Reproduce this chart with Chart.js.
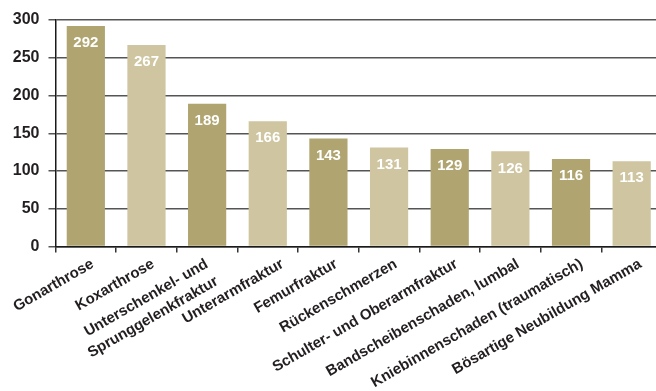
<!DOCTYPE html>
<html lang="de">
<head>
    <meta charset="UTF-8">
    <title>Diagnosen</title>
    <script src="https://cdn.jsdelivr.net/npm/chart.js"></script>
    <style>
        html, body {
            margin: 0;
            padding: 0;
            background: #ffffff;
            overflow: hidden;
        }
        #wrap {
            width: 662px;
            height: 391px;
            position: relative;
        }
    </style>
</head>
<body>
    <div id="wrap"><canvas id="chart"></canvas></div>

    <script>
        const categories = [
            'Gonarthrose',
            'Koxarthrose',
            ['Unterschenkel- und', 'Sprunggelenkfraktur'],
            'Unterarmfraktur',
            'Femurfraktur',
            'Rückenschmerzen',
            'Schulter- und Oberarmfraktur',
            'Bandscheibenschaden, lumbal',
            'Kniebinnenschaden (traumatisch)',
            'Bösartige Neubildung Mamma'
        ];
        const values = [292, 267, 189, 166, 143, 131, 129, 126, 116, 113];
        const yTicks = [0, 50, 100, 150, 200, 250, 300];

        const FONT = "'Liberation Sans', Arial, sans-serif";
        const DARK = '#b0a570';
        const LIGHT = '#cfc5a0';
        const TEXT = '#231f20';

        // small horizontal nudges of the rotated category labels, as in the original
        const labelNudge = [3, 3, -4, 11, 4, 3, 3, 4, 7, 5];

        // white numbers inside the top of each bar
        const valueLabels = {
            id: 'valueLabels',
            afterDatasetsDraw(chart) {
                const ctx = chart.ctx;
                const meta = chart.getDatasetMeta(0);
                ctx.save();
                ctx.fillStyle = '#ffffff';
                ctx.font = 'bold 15px ' + FONT;
                ctx.textAlign = 'center';
                ctx.textBaseline = 'middle';
                meta.data.forEach((bar, i) => {
                    ctx.fillText(String(values[i]), bar.x, bar.y + 17);
                });
                ctx.restore();
            }
        };

        // rotated category labels under the x axis
        const categoryLabels = {
            id: 'categoryLabels',
            afterDraw(chart) {
                const ctx = chart.ctx;
                const scale = chart.scales.x;
                const angle = -30 * Math.PI / 180;
                ctx.save();
                ctx.fillStyle = TEXT;
                ctx.font = 'bold 15px ' + FONT;
                ctx.textAlign = 'right';
                ctx.textBaseline = 'top';
                categories.forEach((label, i) => {
                    const lines = Array.isArray(label) ? label : [label];
                    ctx.save();
                    ctx.translate(scale.getPixelForTick(i) + labelNudge[i], scale.top + 10);
                    ctx.rotate(angle);
                    lines.forEach((line, k) => ctx.fillText(line, 0, k * 20));
                    ctx.restore();
                });
                ctx.restore();
            }
        };

        const ctx = document.getElementById('chart').getContext('2d');
        new Chart(ctx, {
            type: 'bar',
            data: {
                labels: categories,
                datasets: [{
                    data: values,
                    backgroundColor: values.map((v, i) => i % 2 === 0 ? DARK : LIGHT),
                    borderWidth: 0,
                    categoryPercentage: 1,
                    barPercentage: 0.63
                }]
            },
            options: {
                responsive: true,
                maintainAspectRatio: false,
                animation: false,
                layout: {
                    padding: { top: 20, right: 0, bottom: 0, left: 0 }
                },
                plugins: {
                    legend: { display: false },
                    tooltip: { enabled: false }
                },
                scales: {
                    x: {
                        offset: true,
                        grid: {
                            display: true,
                            offset: true,
                            drawOnChartArea: false,
                            drawTicks: true,
                            tickLength: 6,
                            color: '#333333',
                            lineWidth: 1.5
                        },
                        border: { display: true, color: '#1a1a1a', width: 1.5 },
                        ticks: { display: false },
                        afterFit(scale) {
                            scale.height = 144.5;
                            scale.paddingLeft = 0;
                            scale.paddingRight = 0;
                        }
                    },
                    y: {
                        min: 0,
                        max: 300,
                        afterBuildTicks(scale) {
                            scale.ticks = yTicks.map(v => ({ value: v }));
                        },
                        grid: {
                            color: '#555555',
                            lineWidth: 1.5,
                            drawTicks: true,
                            tickLength: 7
                        },
                        border: { display: true, color: '#1a1a1a', width: 1.5 },
                        ticks: {
                            padding: 9,
                            color: TEXT,
                            font: { family: FONT, size: 16, weight: 'bold' }
                        },
                        afterFit(scale) {
                            scale.width = 55.5;
                        }
                    }
                }
            },
            plugins: [valueLabels, categoryLabels]
        });
    </script>
</body>
</html>
